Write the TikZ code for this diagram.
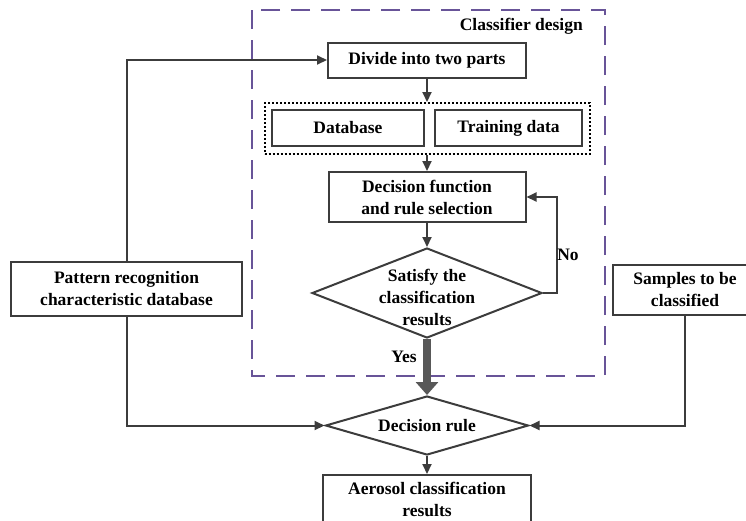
\documentclass[tikz,border=0pt]{standalone}
\usepackage{fontspec}
\setmainfont{Liberation Serif}
\usetikzlibrary{shapes.geometric,arrows.meta}
\definecolor{lineGray}{RGB}{60,60,60}
\definecolor{framePurple}{RGB}{104,84,152}
\definecolor{yesGray}{RGB}{88,88,88}

\begin{document}
\begin{tikzpicture}[x=1pt,y=-1pt,
    txt/.style={font=\fontsize{17.5}{22}\selectfont\bfseries, align=center, inner sep=0pt},
    box/.style={txt, draw=lineGray, line width=2pt},
    decide/.style={diamond, draw=lineGray, line width=2pt, inner sep=0pt},
    arr/.style={draw=lineGray, line width=2pt, -{Triangle[length=10pt,width=9pt]}},
    link/.style={draw=lineGray, line width=2pt}]
    \useasboundingbox (0,0) rectangle (746,520);
    \clip (0,0) rectangle (746,520);

    % Classifier design frame
    \draw[framePurple, line width=2.5pt, dash pattern=on 19pt off 11pt] (252,10) rectangle (605,376);
    \node[txt, anchor=east] (title) at (583,26) {Classifier design};

    \node[box, minimum width=198pt, minimum height=35pt] (divide) at (427,60) {Divide into two parts};
    \node[draw=black, line width=2pt, dash pattern=on 2pt off 2pt, minimum width=325pt, minimum height=51pt] (grp) at (427,128.5) {};
    \node[box, minimum width=152pt, minimum height=36pt] (db) at (348,128) {Database};
    \node[box, minimum width=147pt, minimum height=36pt] (train) at (508.5,128) {Training data};
    \node[box, minimum width=197pt, minimum height=50pt] (func) at (427,197) {Decision function\\and rule selection};
    \node[decide, minimum width=230pt, minimum height=90pt] (sat) at (427,293) {};
    \node[txt] (satText) at (427,297) {Satisfy the\\classification\\results};
    \node[decide, minimum width=203pt, minimum height=59pt] (rule) at (427,425.5) {};
    \node[txt] (ruleText) at (427,426) {Decision rule};
    \node[box, minimum width=208pt, minimum height=48pt] (aero) at (427,499) {Aerosol classification\\results};

    \node[box, minimum width=231pt, minimum height=54pt] (pattern) at (126.5,289) {Pattern recognition\\characteristic database};
    \node[box, minimum width=144pt, minimum height=50pt] (samples) at (685,290) {Samples to be\\classified};

    % connectors
    \draw[arr] (pattern.north) |- (divide.west);
    \draw[arr] (pattern.south) |- (rule.west);
    \draw[arr] (samples.south) |- (rule.east);
    \draw[arr] (divide.south) -- (grp.north);
    \draw[arr] (grp.south) -- (func.north);
    \draw[arr] (func.south) -- (sat.north);
    \draw[arr] (sat.east) -- ++(14,0) coordinate (noTurn) |- (func.east);
    \node[txt] (no) at (568,255) {No};
    \draw[yesGray, line width=8pt, -{Triangle[length=13pt,width=22pt]}] (sat.south) -- (rule.north);
    \node[txt] (yes) at (404,357) {Yes};
    \draw[arr] (rule.south) -- (aero.north);
\end{tikzpicture}
\end{document}
